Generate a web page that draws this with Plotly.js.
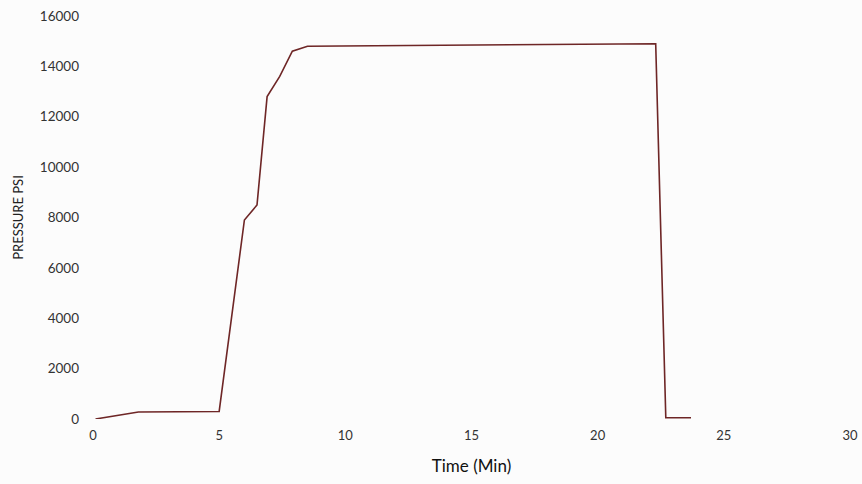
<!DOCTYPE html>
<html>
<head>
<meta charset="utf-8">
<script src="https://cdn.plot.ly/plotly-3.0.1.min.js"></script>
<style>html,body{margin:0;padding:0;background:#fcfcfc;}#chart{width:862px;height:484px;}</style>
</head>
<body>
<div id="chart"></div>
<script>
const timeMin = [0.1, 1.8, 5.0, 6.0, 6.5, 6.9, 7.4, 7.9, 8.5, 22.3, 22.7, 23.7];
const pressurePsi = [0, 280, 300, 7900, 8500, 12800, 13600, 14600, 14800, 14900, 50, 50];
const xTicks = [0, 5, 10, 15, 20, 25, 30];
const yTicks = [0, 2000, 4000, 6000, 8000, 10000, 12000, 14000, 16000];

const trace = {
  x: timeMin,
  y: pressurePsi,
  type: 'scatter',
  mode: 'lines',
  line: {color: '#6e2626', width: 1.6},
  hoverinfo: 'x+y'
};

const layout = {
  width: 862,
  height: 484,
  margin: {l: 93, r: 12, t: 16, b: 65},
  paper_bgcolor: '#fcfcfc',
  plot_bgcolor: '#fcfcfc',
  font: {family: 'Lato, "Open Sans", sans-serif', color: '#333'},
  showlegend: false,
  xaxis: {
    range: [0, 30],
    tickvals: xTicks,
    ticktext: xTicks.map(String),
    showgrid: false,
    zeroline: false,
    showline: false,
    ticks: '',
    ticklabelstandoff: 7,
    tickfont: {size: 13, color: '#333'},
    title: {text: 'Time (Min)', font: {size: 17, color: '#111'}, standoff: 18}
  },
  yaxis: {
    range: [0, 16000],
    tickvals: yTicks,
    ticktext: yTicks.map(String),
    showgrid: false,
    zeroline: false,
    showline: false,
    ticks: '',
    ticklabelstandoff: 13,
    tickfont: {size: 13.5, color: '#333'},
    title: {text: 'PRESSURE PSI', font: {size: 13, color: '#222'}, standoff: 13}
  }
};

Plotly.newPlot('chart', [trace], layout, {displayModeBar: false, staticPlot: true});
</script>
</body>
</html>
